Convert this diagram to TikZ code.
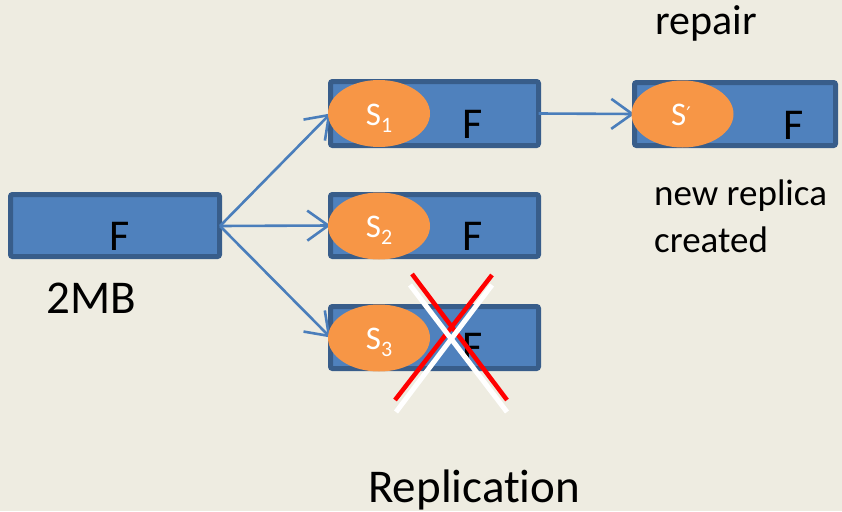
\documentclass[tikz,border=0pt]{standalone}
\usepackage{fontspec}
\setmainfont{Carlito}[Ligatures=NoCommon]
\newfontfamily\symfont{DejaVu Sans}
\usetikzlibrary{arrows.meta,shapes.geometric}
\definecolor{bgc}{HTML}{EEECE1}
\definecolor{boxfill}{HTML}{4F81BD}
\definecolor{boxline}{HTML}{385D8A}
\definecolor{ellc}{HTML}{F79646}
\definecolor{arrc}{HTML}{4A7EBB}
\definecolor{crossred}{HTML}{FF0000}
\newcommand{\fsz}[1]{\fontsize{#1pt}{#1pt}\selectfont}
\newcommand{\mysub}[1]{\raisebox{-0.22em}{\fontsize{22pt}{22pt}\selectfont #1}}
\tikzset{
  filebox/.style={draw=boxline, fill=boxfill, line width=5pt, rounded corners=2pt, inner sep=0pt, outer sep=0pt, shape=rectangle},
  store/.style={fill=ellc, ellipse, minimum width=102pt, minimum height=67pt, inner sep=0pt},
  flabel/.style={anchor=base, font=\fsz{44}, text=black, inner sep=0pt},
  slabel/.style={anchor=base, font=\fsz{33}, text=white, inner sep=0pt},
  plain/.style={anchor=base west, font=\fsz{37}, text=black, inner sep=0pt},
  conn/.style={draw=arrc, line width=2.6pt, -{Straight Barb[length=21pt,width=30pt,line width=2.6pt]}},
  redx/.style={draw=crossred, line width=4.5pt},
  whitex/.style={draw=white, line width=5pt}
}
\begin{document}
\begin{tikzpicture}[x=1pt,y=-1pt]
\fill[bgc] (0,0) rectangle (842,511);
\useasboundingbox (0,0) rectangle (842,511);

% boxes
\node[filebox, minimum width=209pt, minimum height=62pt] (src) at (115,225.5) {};
\node[filebox, minimum width=208pt, minimum height=64pt] (b1) at (434.5,113.5) {};
\node[filebox, minimum width=208pt, minimum height=62pt] (b2) at (434.5,225.5) {};
\node[filebox, minimum width=208pt, minimum height=62pt] (b3) at (434.5,337.5) {};
\node[filebox, minimum width=201pt, minimum height=63pt] (rep) at (735,114) {};

% F labels
\node[flabel] (fsrc) at (120,250) {F};
\node[flabel] (f1) at (473,138) {F};
\node[flabel] (f2) at (473,250) {F};
\node[flabel] (f3) at (473,361) {F};
\node[flabel] (frep) at (794,139) {F};

% connectors
\coordinate (srcout) at (220,226);
\draw[conn] (srcout) -- (b1.west);
\draw[conn] (srcout) -- (b2.west);
\draw[conn] (srcout) -- (b3.west);
\draw[conn] (b1.east) -- (rep.west);

% storage ellipses
\node[store] (e1) at (379,113.5) {};
\node[store] (e2) at (379,226) {};
\node[store] (e3) at (379,338) {};
\node[store] (erep) at (682.5,114) {};

\node[slabel] (s1) at (379,125) {S\mysub{1}};
\node[slabel] (s2) at (379,237) {S\mysub{2}};
\node[slabel] (s3) at (379,349) {S\mysub{3}};
\node[slabel] (srep) at (681,125) {S\raisebox{0.1em}{\symfont\fsz{20}′}};

% failure cross
\draw[redx] (395,400) -- (492,275);
\draw[redx] (412,274) -- (507,400);
\draw[whitex] (396,412) -- (492,285);
\draw[whitex] (410,285) -- (507,412);

% texts
\node[plain, font=\fsz{42}] (trepair) at (655,35) {repair};
\node[plain] (tnew) at (654,205) {new replica};
\node[plain] (tcreated) at (654,252) {created};
\node[plain, font=\fsz{47}] (t2mb) at (46,313) {2MB};
\node[plain, font=\fsz{47}] (trepl) at (368,502) {Replication};
\end{tikzpicture}
\end{document}
